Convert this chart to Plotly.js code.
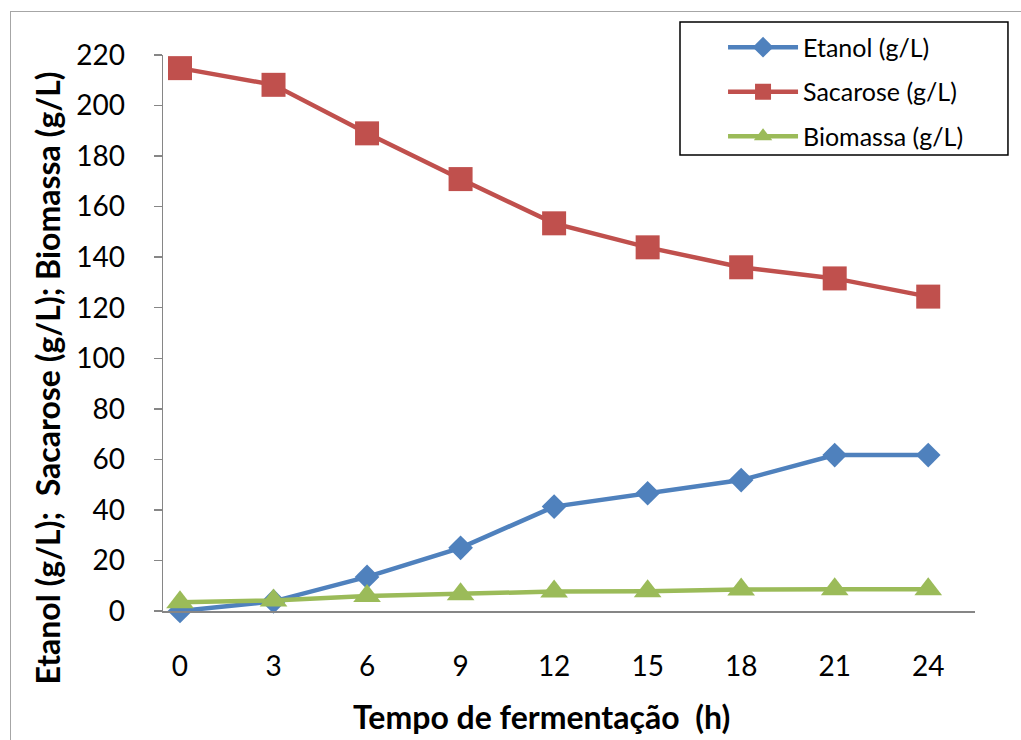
<!DOCTYPE html>
<html>
<head>
<meta charset="utf-8">
<script src="https://cdn.plot.ly/plotly-3.0.1.min.js"></script>
<style>
  html, body { margin: 0; padding: 0; background: #fff; }
  #wrap { position: relative; width: 1021px; height: 740px; overflow: hidden; }
  #chart { position: absolute; left: 0; top: 0; width: 1021px; height: 740px; }
  #frame { position: absolute; left: 10px; top: 11px; width: 1100px; height: 800px;
           border-left: 1.5px solid #a6a6a6; border-top: 1.5px solid #a6a6a6; pointer-events: none; }
</style>
</head>
<body>
<div id="wrap">
  <div id="chart"></div>
  <div id="frame"></div>
</div>
<script>
// Fermentation time (h)
const hours = [0, 3, 6, 9, 12, 15, 18, 21, 24];
// Concentrations (g/L)
const etanol   = [0, 3.8, 13.5, 25, 41.3, 46.6, 51.8, 61.7, 61.7];
const sacarose = [214.8, 208.2, 189, 170.9, 153.4, 143.9, 136, 131.6, 124.4];
const biomassa = [3.5, 4.2, 5.9, 6.6, 7.7, 7.8, 8.5, 8.6, 8.6];
const yTicks = [0, 20, 40, 60, 80, 100, 120, 140, 160, 180, 200, 220];

const FONT = 'Lato, "Open Sans", sans-serif';
const axisGrey = '#868686';

const series = [
  { name: 'Etanol (g/L)', y: etanol, color: '#4F81BD', symbol: 'diamond', size: 19 },
  { name: 'Sacarose (g/L)', y: sacarose, color: '#C0504D', symbol: 'square', size: 24 },
  { name: 'Biomassa (g/L)', y: biomassa, color: '#9BBB59', symbol: 'triangle-up', size: 24 }
];

const traces = series.map((s, i) => ({
  type: 'scatter', mode: 'lines+markers',
  name: s.name, x: hours, y: s.y,
  legendgroup: 'g' + i,
  line: { color: s.color, width: 4.5 },
  marker: { color: s.color, symbol: s.symbol, size: s.size, line: { width: 0 } },
  cliponaxis: false
}));

const layout = {
  width: 1021, height: 740,
  paper_bgcolor: 'rgba(0,0,0,0)', plot_bgcolor: 'rgba(0,0,0,0)',
  margin: { l: 163, r: 46, t: 55, b: 129 },
  font: { family: FONT, color: '#000' },
  showlegend: true,
  legend: {
    x: 0.6897, y: 1.055, xanchor: 'left', yanchor: 'top',
    bgcolor: 'rgba(0,0,0,0)', borderwidth: 0,
    font: { family: FONT, size: 25, color: '#000' },
    traceorder: 'grouped', tracegroupgap: 9, itemwidth: 70
  },
  // legend frame
  shapes: [{
    type: 'rect', xref: 'paper', yref: 'paper',
    x0: 0.6367, x1: 1.0406, y0: 0.8201, y1: 1.0594,
    line: { color: '#000', width: 1.5 }, fillcolor: '#fff', layer: 'below'
  }],
  annotations: [
    {
      text: '<b>Tempo de fermentação\u00a0 (h)</b>', xref: 'paper', yref: 'paper',
      x: 0.4667, y: -0.189, xanchor: 'center', yanchor: 'middle', showarrow: false,
      font: { family: FONT, size: 32, color: '#000' }
    },
    {
      text: '<b>Etanol (g/L);\u00a0 Sacarose (g/L); Biomassa (g/L)</b>', xref: 'paper', yref: 'paper',
      x: -0.1416, y: 0.418, xanchor: 'center', yanchor: 'middle', textangle: -90, showarrow: false,
      font: { family: FONT, size: 32, color: '#000' }
    }
  ],
  xaxis: {
    range: [-0.545, 25.5],
    tickmode: 'array', tickvals: hours, ticktext: hours.map(String),
    showgrid: false, zeroline: false,
    showline: true, linecolor: axisGrey, linewidth: 1.5,
    ticks: '', ticklabelstandoff: 30,
    tickfont: { family: FONT, size: 28, color: '#000' }
  },
  yaxis: {
    range: [0, 220],
    tickmode: 'array', tickvals: yTicks, ticktext: yTicks.map(String),
    showgrid: false, zeroline: false,
    showline: true, linecolor: axisGrey, linewidth: 1.5,
    ticks: 'outside', ticklen: 8, tickcolor: axisGrey, tickwidth: 1.5,
    ticklabelstandoff: 23,
    tickfont: { family: FONT, size: 28, color: '#000' }
  }
};

Plotly.newPlot('chart', traces, layout, { displayModeBar: false, staticPlot: true });
</script>
</body>
</html>
